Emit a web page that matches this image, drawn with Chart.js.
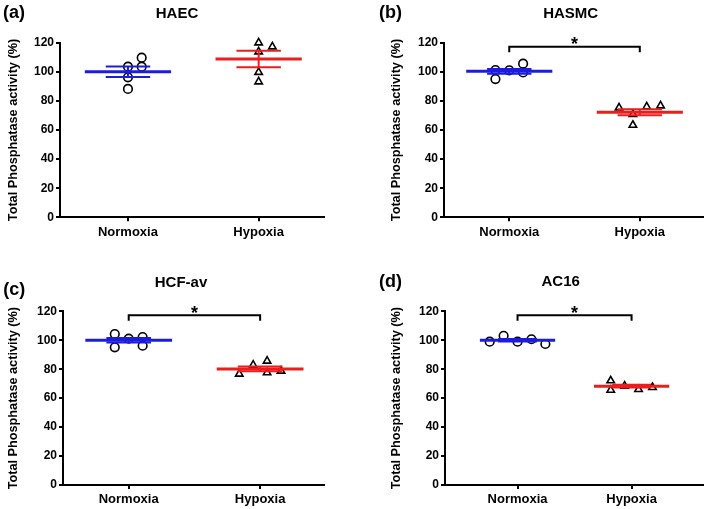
<!DOCTYPE html>
<html>
<head>
<meta charset="utf-8">
<script src="https://cdn.jsdelivr.net/npm/chart.js@4.4.0/dist/chart.umd.min.js"></script>
<style>
  body { margin: 0; background: #fff; }
  #fig { position: relative; width: 709px; height: 509px; }
  canvas { position: absolute; }
</style>
</head>
<body>
<div id="fig">
  <canvas id="pa" width="354" height="254" style="left:0;top:0"></canvas>
  <canvas id="pb" width="355" height="254" style="left:354px;top:0"></canvas>
  <canvas id="pc" width="354" height="255" style="left:0;top:254px"></canvas>
  <canvas id="pd" width="355" height="255" style="left:354px;top:254px"></canvas>
</div>
<script>
// categories and axis
const categories = ['Normoxia', 'Hypoxia'];
const yTicks = [0, 20, 40, 60, 80, 100, 120];
const yTitle = 'Total Phosphatase activity (%)';

// (a) HAEC
const haecNormoxia = [103.5, 96.2, 88.2, 109.7, 103.5];
const haecHypoxia = [120, 117.2, 113.8, 99.7, 93.2];
const haecMean = [100, 108.8];
const haecSem = [3.6, 5.6];

// (b) HASMC
const hasmcNormoxia = [101.2, 95, 101, 105.6, 99.6];
const hasmcHypoxia = [75.3, 70.8, 63.4, 76, 76.7];
const hasmcMean = [100.3, 72.2];
const hasmcSem = [1.6, 2.1];

// (c) HCF-av
const hcfNormoxia = [104.3, 95.1, 101.1, 102.2, 96.2];
const hcfHypoxia = [76.7, 82.9, 85.7, 77.6, 78.8];
const hcfMean = [100, 80.2];
const hcfSem = [1.6, 1.7];

// (d) AC16
const ac16Normoxia = [99, 103.1, 99, 100.7, 97.4];
const ac16Hypoxia = [72.1, 65.6, 68.4, 66.1, 67.5];
const ac16Mean = [100, 68.3];
const ac16Sem = [0.9, 1.0];

// significance bracket (value units): bar height, leg end
const sigBar = [117.3, 113.5];

// side-by-side placement of points (column index per point)
const haecCols = [[0, 0, 0, 1, 1], [0, 1, 0, 0, 0]];
const hasmcCols = [[-1, -1, 0, 1, 1], [-1.5, -0.5, -0.5, 0.5, 1.5]];
const hcfCols = [[-1, -1, 0, 1, 1], [-1.5, -0.5, 0.5, 0.5, 1.5]];
const ac16Cols = [[-2, -1, 0, 1, 2], [-1.5, -1.5, -0.5, 0.5, 1.5]];

const FONT = '"Liberation Sans", Arial, sans-serif';
const groupColors = ['#1c1ce0', '#ee1d1d'];
const pointShapes = ['circle', 'triangle'];

const panelText = {
  id: 'panelText',
  afterDraw(chart, args, o) {
    const ctx = chart.ctx;
    ctx.save();
    ctx.fillStyle = '#000';
    ctx.textBaseline = 'alphabetic';
    ctx.font = 'bold 18px ' + FONT;
    ctx.textAlign = 'left';
    ctx.fillText(o.letter, o.lx, o.ly);
    ctx.font = 'bold 15px ' + FONT;
    ctx.textAlign = 'center';
    ctx.fillText(o.title, o.tx, o.ty);
    ctx.restore();
  }
};

const bracket = {
  id: 'bracket',
  afterDatasetsDraw(chart, args, o) {
    if (!o.show) return;
    const { ctx, scales: { x, y } } = chart;
    const x0 = x.getPixelForValue(0), x1 = x.getPixelForValue(1);
    const yt = y.getPixelForValue(sigBar[0]), yl = y.getPixelForValue(sigBar[1]);
    ctx.save();
    ctx.strokeStyle = '#000';
    ctx.lineWidth = 2;
    ctx.beginPath();
    ctx.moveTo(x0, yl); ctx.lineTo(x0, yt); ctx.lineTo(x1, yt); ctx.lineTo(x1, yl);
    ctx.stroke();
    ctx.fillStyle = '#000';
    ctx.font = 'bold 18px ' + FONT;
    ctx.textAlign = 'center';
    ctx.textBaseline = 'alphabetic';
    ctx.fillText('*', (x0 + x1) / 2, yt + 3.3);
    ctx.restore();
  }
};

function makePanel(id, p) {
  const datasets = [];
  categories.forEach((c, i) => {
    const m = p.mean[i], s = p.sem[i];
    datasets.push({
      label: c,
      data: p.values[i].map((v, k) => ({ x: i + p.cols[i][k] * p.step, y: v })),
      pointStyle: pointShapes[i],
      pointRadius: 4.3,
      borderColor: '#000',
      borderWidth: 1.6,
      backgroundColor: 'rgba(0,0,0,0)',
      clip: false,
      order: 2
    });
    datasets.push({
      data: [{ x: i - 0.33, y: m }, { x: i + 0.33, y: m }],
      showLine: true,
      borderColor: groupColors[i],
      borderWidth: 3,
      pointRadius: 0,
      order: 1
    });
    datasets.push({
      data: [
        { x: i - 0.17, y: m + s }, { x: i + 0.17, y: m + s }, { x: i, y: null },
        { x: i - 0.17, y: m - s }, { x: i + 0.17, y: m - s }, { x: i, y: null },
        { x: i, y: m + s }, { x: i, y: m - s }
      ],
      showLine: true,
      spanGaps: false,
      borderColor: groupColors[i],
      borderWidth: 2,
      pointRadius: 0,
      order: 1
    });
  });

  new Chart(document.getElementById(id), {
    type: 'scatter',
    data: { datasets },
    plugins: [panelText, bracket],
    options: {
      responsive: false,
      animation: false,
      events: [],
      layout: { padding: p.pad },
      plugins: {
        legend: { display: false },
        tooltip: { enabled: false },
        panelText: p.text,
        bracket: { show: p.sig }
      },
      scales: {
        x: {
          type: 'linear',
          min: p.xr[0],
          max: p.xr[1],
          afterBuildTicks: s => { s.ticks = categories.map((c, i) => ({ value: i })); },
          afterFit: s => { s.height = 24; },
          ticks: {
            callback: v => categories[Math.round(v)],
            color: '#000',
            maxRotation: 0,
            padding: 3,
            font: { family: FONT, size: 13, weight: 'bold' }
          },
          grid: { drawOnChartArea: false, color: '#000', lineWidth: 2, tickLength: 4 },
          border: { color: '#000', width: 2 }
        },
        y: {
          min: 0,
          max: 120,
          afterBuildTicks: s => { s.ticks = yTicks.map(v => ({ value: v })); },
          afterFit: s => { s.width = p.yw; },
          ticks: {
            color: '#000',
            padding: 2,
            font: { family: FONT, size: 12, weight: 'bold' }
          },
          grid: { drawOnChartArea: false, color: '#000', lineWidth: 2, tickLength: 4 },
          border: { color: '#000', width: 2 },
          title: {
            display: true,
            text: yTitle,
            color: '#000',
            padding: 0,
            font: { family: FONT, size: 12.7, weight: 'bold' }
          }
        }
      }
    }
  });
}

makePanel('pa', {
  values: [haecNormoxia, haecHypoxia], mean: haecMean, sem: haecSem, cols: haecCols,
  step: 0.105, xr: [-0.52, 1.5], yw: 54, sig: false,
  pad: { left: 6, top: 42.7, right: 30, bottom: 12.7 },
  text: { letter: '(a)', lx: 3, ly: 18, title: 'HAEC', tx: 177, ty: 18.3 }
});
makePanel('pb', {
  values: [hasmcNormoxia, hasmcHypoxia], mean: hasmcMean, sem: hasmcSem, cols: hasmcCols,
  step: 0.106, xr: [-0.5, 1.485], yw: 55, sig: true,
  pad: { left: 35, top: 42.7, right: 3, bottom: 12.7 },
  text: { letter: '(b)', lx: 25, ly: 17.8, title: 'HASMC', tx: 216.7, ty: 18.3 }
});
makePanel('pc', {
  values: [hcfNormoxia, hcfHypoxia], mean: hcfMean, sem: hcfSem, cols: hcfCols,
  step: 0.106, xr: [-0.5, 1.486], yw: 57, sig: true,
  pad: { left: 6, top: 57.3, right: 30, bottom: 0 },
  text: { letter: '(c)', lx: 3.3, ly: 41.2, title: 'HCF-av', tx: 181, ty: 32.7 }
});
makePanel('pd', {
  values: [ac16Normoxia, ac16Hypoxia], mean: ac16Mean, sem: ac16Sem, cols: ac16Cols,
  step: 0.122, xr: [-0.636, 1.627], yw: 56, sig: true,
  pad: { left: 35, top: 57.3, right: 3, bottom: 0 },
  text: { letter: '(d)', lx: 25, ly: 32.9, title: 'AC16', tx: 206.7, ty: 31.7 }
});
</script>
</body>
</html>
